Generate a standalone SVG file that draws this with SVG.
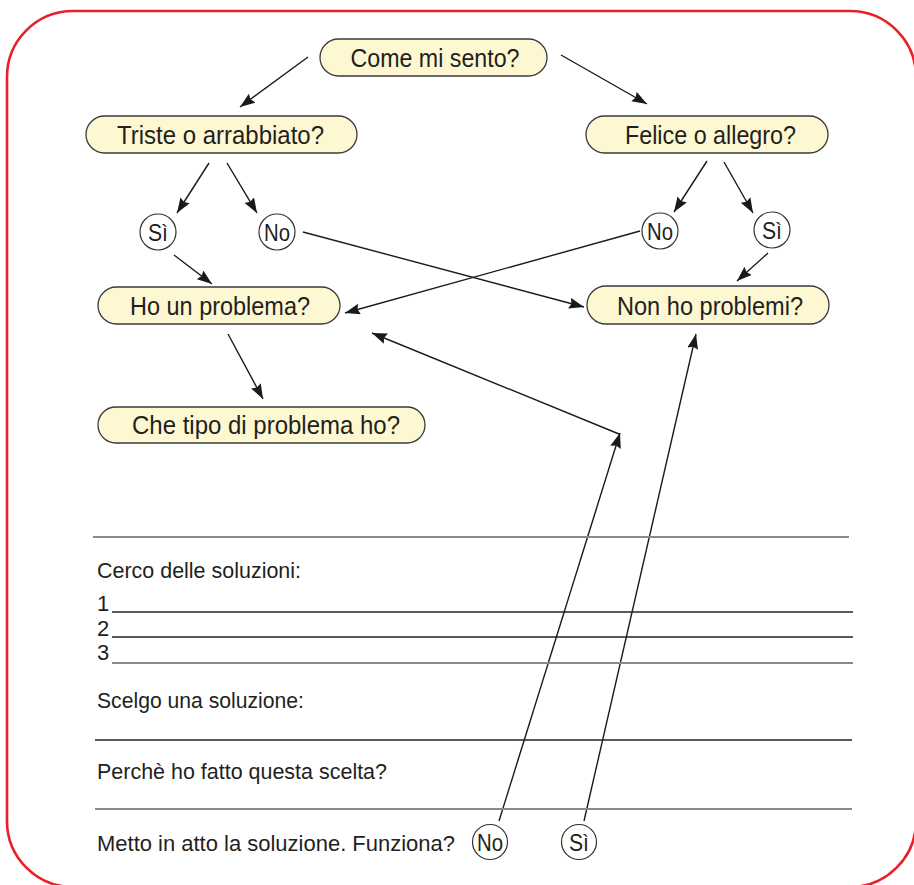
<svg xmlns="http://www.w3.org/2000/svg" width="914" height="885" viewBox="0 0 914 885">
<defs>
<style>
.pill{fill:#fdf8d2;stroke:#3a3a3a;stroke-width:1.3}
.circ{fill:#ffffff;stroke:#333;stroke-width:1.2}
.t{font-family:"Liberation Sans","Noto Sans",sans-serif;fill:#231f20}
.pt{font-size:26px;text-anchor:middle}
.ct{font-size:24px;text-anchor:middle}
.bt{font-size:22px}
.con{stroke:#1a1a1a;stroke-width:1.4;fill:none;marker-end:url(#ah)}
.rule{stroke:#222;stroke-width:1.4}
.rule2{stroke:#8a8a8a;stroke-width:2.2}
</style>
<marker id="ah" markerUnits="userSpaceOnUse" markerWidth="16" markerHeight="12" refX="15" refY="5.5" orient="auto">
<path d="M0,0 L15,5.5 L0,11 L2,5.5 z" fill="#1a1a1a"/>
</marker>
</defs>
<rect x="7" y="11" width="909" height="876" rx="66" ry="66" fill="none" stroke="#e8202a" stroke-width="2.6"/>

<g id="connectors">
<line class="con" x1="308" y1="57" x2="240" y2="107"/>
<line class="con" x1="561" y1="55" x2="647" y2="104"/>
<line class="con" x1="209" y1="163" x2="177" y2="213"/>
<line class="con" x1="227" y1="163" x2="257" y2="213"/>
<line class="con" x1="707" y1="161" x2="674" y2="212"/>
<line class="con" x1="724" y1="162" x2="753" y2="213"/>
<line class="con" x1="174" y1="255" x2="212" y2="284"/>
<line class="con" x1="768" y1="253" x2="737" y2="281"/>
<line class="con" x1="303" y1="232" x2="584" y2="307"/>
<line class="con" x1="640" y1="231" x2="345" y2="313"/>
<line class="con" x1="228" y1="334" x2="263" y2="399"/>
<line class="con" x1="499" y1="821" x2="620" y2="433"/>
<line class="con" x1="619" y1="434" x2="372" y2="333"/>
<line class="con" x1="584" y1="821" x2="696" y2="334"/>
</g>

<g id="n-come"><rect class="pill" x="320" y="39" width="227" height="37" rx="18.5"/><text class="t pt" x="435" y="66.5" textLength="169" lengthAdjust="spacingAndGlyphs">Come mi sento?</text></g>
<g id="n-triste"><rect class="pill" x="86" y="116" width="271" height="37" rx="18.5"/><text class="t pt" x="220.5" y="143.5" textLength="207" lengthAdjust="spacingAndGlyphs">Triste o arrabbiato?</text></g>
<g id="n-felice"><rect class="pill" x="586" y="116" width="242" height="37" rx="18.5"/><text class="t pt" x="710.5" y="143.5" textLength="171" lengthAdjust="spacingAndGlyphs">Felice o allegro?</text></g>
<g id="n-si1"><circle class="circ" cx="158" cy="232" r="18"/><text class="t ct" x="158" y="240.5" textLength="20" lengthAdjust="spacingAndGlyphs">Sì</text></g>
<g id="n-no1"><circle class="circ" cx="277" cy="232" r="18"/><text class="t ct" x="277" y="240.5" textLength="26" lengthAdjust="spacingAndGlyphs">No</text></g>
<g id="n-no2"><circle class="circ" cx="660" cy="231" r="18"/><text class="t ct" x="660" y="239.5" textLength="26" lengthAdjust="spacingAndGlyphs">No</text></g>
<g id="n-si2"><circle class="circ" cx="772" cy="230" r="18"/><text class="t ct" x="772" y="238.5" textLength="20" lengthAdjust="spacingAndGlyphs">Sì</text></g>
<g id="n-ho"><rect class="pill" x="98" y="287" width="242" height="37" rx="18.5"/><text class="t pt" x="220" y="314.5" textLength="180" lengthAdjust="spacingAndGlyphs">Ho un problema?</text></g>
<g id="n-non"><rect class="pill" x="587" y="286" width="242" height="38" rx="19"/><text class="t pt" x="710" y="314.5" textLength="186" lengthAdjust="spacingAndGlyphs">Non ho problemi?</text></g>
<g id="n-che"><rect class="pill" x="98" y="407" width="327" height="36" rx="18"/><text class="t pt" x="266" y="434" textLength="268" lengthAdjust="spacingAndGlyphs">Che tipo di problema ho?</text></g>

<g id="worksheet">
<line class="rule2" x1="93" y1="537" x2="849" y2="537"/>
<text class="t bt" x="97" y="578" textLength="204" lengthAdjust="spacingAndGlyphs">Cerco delle soluzioni:</text>
<text class="t bt" x="97" y="611">1</text>
<line class="rule" x1="112" y1="612" x2="853" y2="612"/>
<text class="t bt" x="97" y="636">2</text>
<line class="rule" x1="112" y1="637" x2="853" y2="637"/>
<text class="t bt" x="97" y="660">3</text>
<line class="rule2" x1="112" y1="663" x2="853" y2="663"/>
<text class="t bt" x="97" y="708" textLength="207" lengthAdjust="spacingAndGlyphs">Scelgo una soluzione:</text>
<line class="rule" x1="95" y1="740" x2="852" y2="740"/>
<text class="t bt" x="97" y="779" textLength="290" lengthAdjust="spacingAndGlyphs">Perchè ho fatto questa scelta?</text>
<line class="rule2" x1="95" y1="809" x2="852" y2="809"/>
<text class="t bt" x="97" y="851" textLength="358" lengthAdjust="spacingAndGlyphs">Metto in atto la soluzione. Funziona?</text>
</g>
<g id="n-no3"><circle class="circ" cx="490" cy="842" r="17.5"/><text class="t ct" x="490" y="850.5" textLength="26" lengthAdjust="spacingAndGlyphs">No</text></g>
<g id="n-si3"><circle class="circ" cx="579" cy="842" r="17.5"/><text class="t ct" x="579" y="850.5" textLength="20" lengthAdjust="spacingAndGlyphs">Sì</text></g>
</svg>
